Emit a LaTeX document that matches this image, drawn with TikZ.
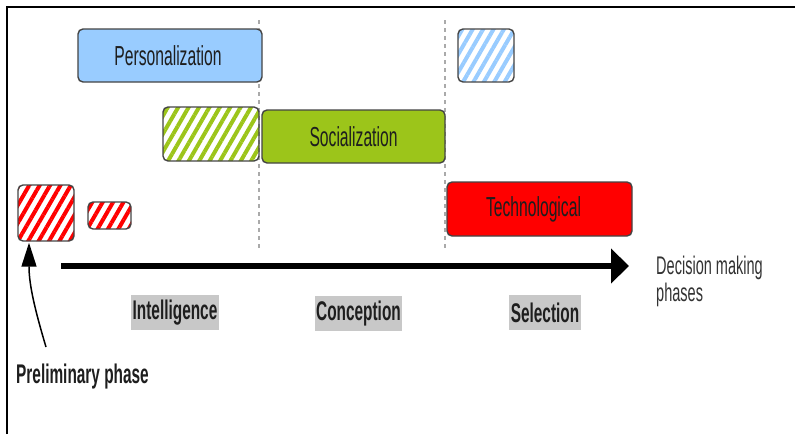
\documentclass[tikz,border=0pt]{standalone}
\usepackage{fontspec}
\setmainfont[FakeStretch=0.57]{Liberation Sans}
\usetikzlibrary{arrows.meta,patterns.meta}

\definecolor{boxline}{RGB}{68,68,68}
\definecolor{persblue}{RGB}{153,204,255}
\definecolor{socgreen}{RGB}{156,197,26}
\definecolor{techred}{RGB}{255,0,0}
\definecolor{phasebg}{RGB}{200,200,200}
\definecolor{txtdark}{RGB}{30,30,30}
\definecolor{sepgray}{RGB}{170,170,170}

\tikzset{
  phasebox/.style={draw=boxline, line width=1.4pt, rounded corners=5pt,
    inner sep=0pt, text=txtdark, font=\fontsize{27.5}{30}\selectfont},
  hatchbox/.style={phasebox, fill=white,
    pattern={Lines[angle=60,distance=9pt,line width=4pt]}, pattern color=#1},
  phaselabel/.style={fill=phasebg, inner xsep=1.5pt, minimum height=35pt,
    text=txtdark, font=\fontsize{27}{30}\selectfont\bfseries},
  separator/.style={sepgray, line width=1.4pt, dash pattern=on 4pt off 4pt},
}

\begin{document}
\begin{tikzpicture}[x=1pt, y=-1pt]
\useasboundingbox (0,0) rectangle (795,434);

% frame
\draw[line width=2pt] (7,434) -- (7,7) -- (795,7);

% phase separators
\draw[separator] (259,20) -- (259,250);
\draw[separator] (445,20) -- (445,250);

% activity bars
\node[phasebox, fill=persblue, minimum width=184pt, minimum height=53pt]
  (pers) at (170,55.5) {\hspace*{-4pt}Personalization};
\node[hatchbox=persblue, minimum width=56pt, minimum height=53pt]
  (persh) at (486,55.5) {};

\node[hatchbox=socgreen, minimum width=96pt, minimum height=54pt]
  (soch) at (211,134) {};
\node[phasebox, fill=socgreen, minimum width=183pt, minimum height=53pt]
  (soc) at (353.5,136.5) {Socialization};

\node[hatchbox=techred, minimum width=56pt, minimum height=56pt]
  (preA) at (46,213) {};
\node[hatchbox=techred, minimum width=43pt, minimum height=27pt]
  (preB) at (109.5,215.5) {};
\node[phasebox, fill=techred, minimum width=185pt, minimum height=54pt]
  (tech) at (539.5,209) {\hspace*{-12pt}Technological};

% time axis
\coordinate (axstart) at (61,266);
\coordinate (axend) at (629,266);
\draw[line width=6pt, -{Triangle[length=18pt,width=34pt]}] (axstart) -- (axend);

\node[anchor=north west, align=left, inner sep=0pt, text=black!80,
  font=\fontsize{25.5}{27}\selectfont] (axlabel) at (656,256)
  {Decision making\\phases};

% phase names
\node[phaselabel, minimum width=88pt] (intel) at (175,312.5) {Intelligence};
\node[phaselabel, minimum width=87pt] (conc) at (358.5,313.5) {Conception};
\node[phaselabel, minimum width=70pt] (sel) at (545,312.5) {Selection};

% preliminary phase
\node[anchor=base west, inner sep=0pt, text=txtdark,
  font=\fontsize{27}{30}\selectfont\bfseries] (prelim) at (16,383) {Preliminary phase};
\coordinate (prtail) at (46,347);
\draw[line width=1.5pt, -{Triangle[length=24pt,width=15pt]}]
  (prtail) .. controls (35,310) and (29,285) .. ([xshift=-17pt,yshift=-1pt]preA.south);
\end{tikzpicture}
\end{document}
